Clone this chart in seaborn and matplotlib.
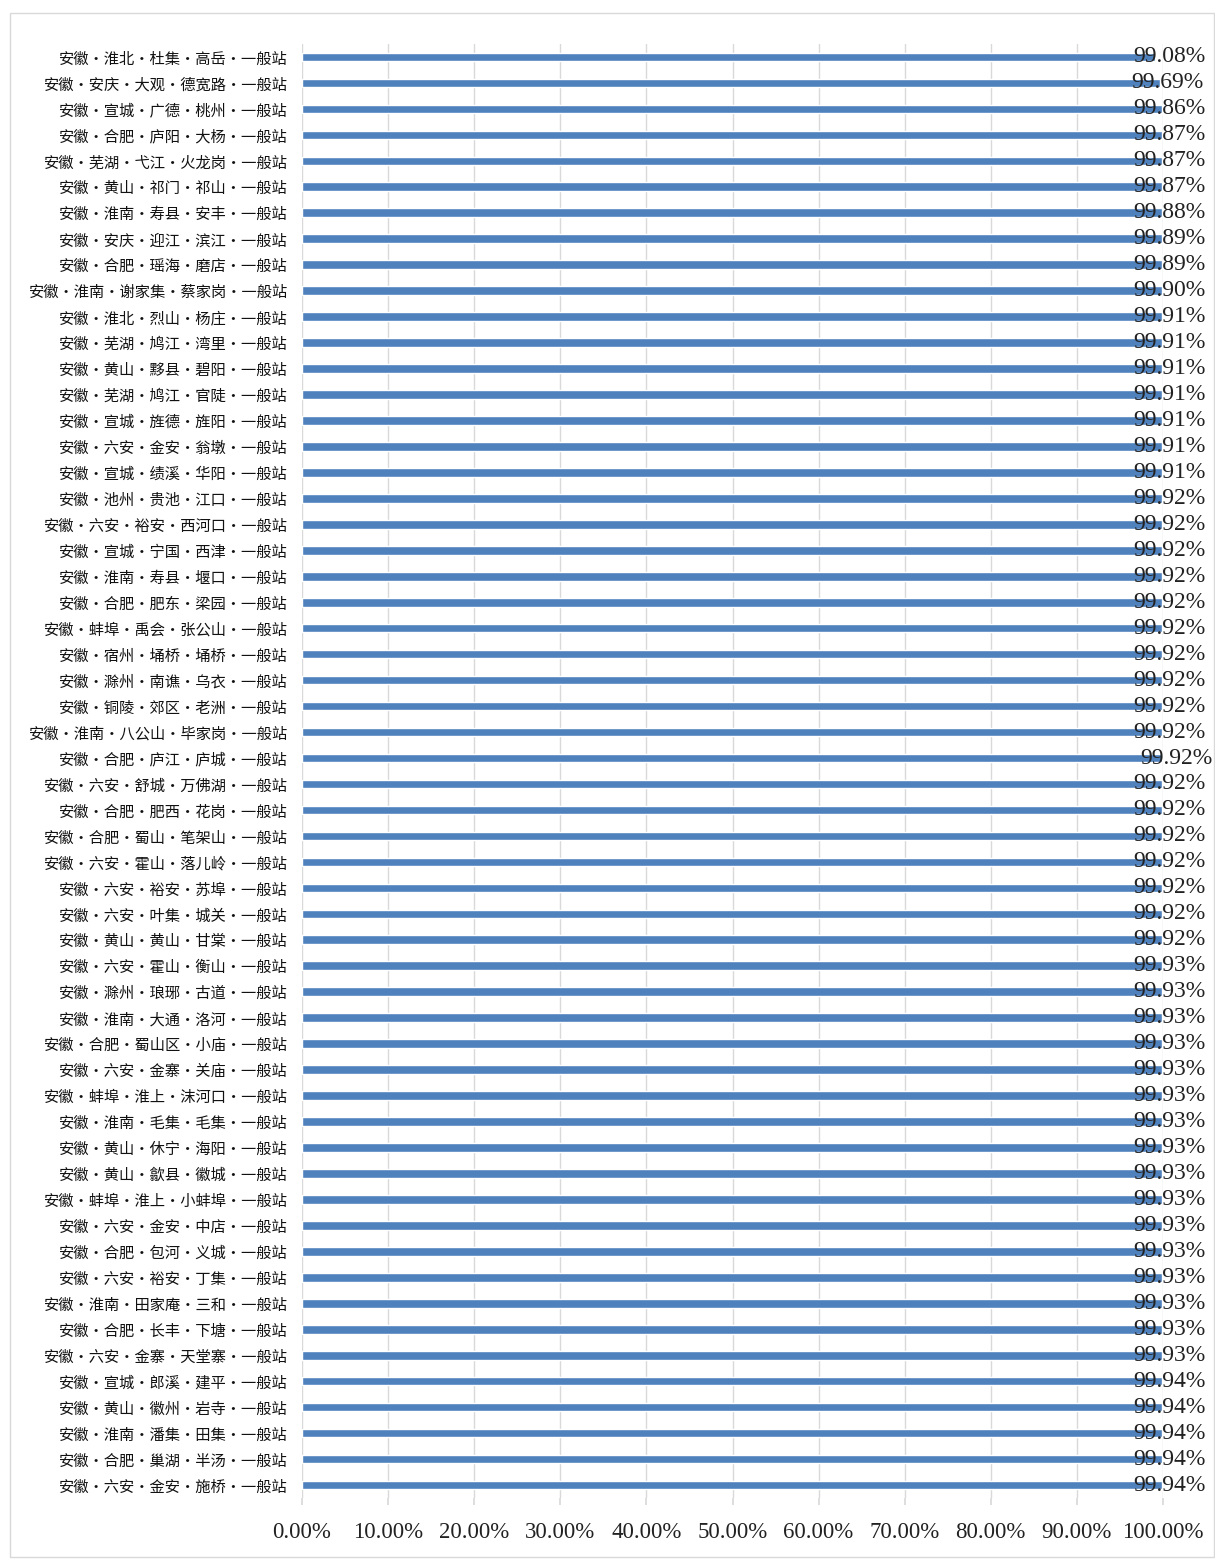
import matplotlib
matplotlib.use("Agg")
import matplotlib.pyplot as plt
import matplotlib.patches as patches
import seaborn as sns
import pandas as pd

# station names, top to bottom
stations = [
    "安徽·淮北·杜集·高岳·一般站", "安徽·安庆·大观·德宽路·一般站", "安徽·宣城·广德·桃州·一般站",
    "安徽·合肥·庐阳·大杨·一般站", "安徽·芜湖·弋江·火龙岗·一般站", "安徽·黄山·祁门·祁山·一般站",
    "安徽·淮南·寿县·安丰·一般站", "安徽·安庆·迎江·滨江·一般站", "安徽·合肥·瑶海·磨店·一般站",
    "安徽·淮南·谢家集·蔡家岗·一般站", "安徽·淮北·烈山·杨庄·一般站", "安徽·芜湖·鸠江·湾里·一般站",
    "安徽·黄山·黟县·碧阳·一般站", "安徽·芜湖·鸠江·官陡·一般站", "安徽·宣城·旌德·旌阳·一般站",
    "安徽·六安·金安·翁墩·一般站", "安徽·宣城·绩溪·华阳·一般站", "安徽·池州·贵池·江口·一般站",
    "安徽·六安·裕安·西河口·一般站", "安徽·宣城·宁国·西津·一般站", "安徽·淮南·寿县·堰口·一般站",
    "安徽·合肥·肥东·梁园·一般站", "安徽·蚌埠·禹会·张公山·一般站", "安徽·宿州·埇桥·埇桥·一般站",
    "安徽·滁州·南谯·乌衣·一般站", "安徽·铜陵·郊区·老洲·一般站", "安徽·淮南·八公山·毕家岗·一般站",
    "安徽·合肥·庐江·庐城·一般站", "安徽·六安·舒城·万佛湖·一般站", "安徽·合肥·肥西·花岗·一般站",
    "安徽·合肥·蜀山·笔架山·一般站", "安徽·六安·霍山·落儿岭·一般站", "安徽·六安·裕安·苏埠·一般站",
    "安徽·六安·叶集·城关·一般站", "安徽·黄山·黄山·甘棠·一般站", "安徽·六安·霍山·衡山·一般站",
    "安徽·滁州·琅琊·古道·一般站", "安徽·淮南·大通·洛河·一般站", "安徽·合肥·蜀山区·小庙·一般站",
    "安徽·六安·金寨·关庙·一般站", "安徽·蚌埠·淮上·沫河口·一般站", "安徽·淮南·毛集·毛集·一般站",
    "安徽·黄山·休宁·海阳·一般站", "安徽·黄山·歙县·徽城·一般站", "安徽·蚌埠·淮上·小蚌埠·一般站",
    "安徽·六安·金安·中店·一般站", "安徽·合肥·包河·义城·一般站", "安徽·六安·裕安·丁集·一般站",
    "安徽·淮南·田家庵·三和·一般站", "安徽·合肥·长丰·下塘·一般站", "安徽·六安·金寨·天堂寨·一般站",
    "安徽·宣城·郎溪·建平·一般站", "安徽·黄山·徽州·岩寺·一般站", "安徽·淮南·潘集·田集·一般站",
    "安徽·合肥·巢湖·半汤·一般站", "安徽·六安·金安·施桥·一般站",
]

# availability in percent
rates = [
    99.08, 99.69, 99.86, 99.87, 99.87, 99.87, 99.88, 99.89, 99.89, 99.90,
    99.91, 99.91, 99.91, 99.91, 99.91, 99.91, 99.91, 99.92, 99.92, 99.92,
    99.92, 99.92, 99.92, 99.92, 99.92, 99.92, 99.92, 99.92, 99.92, 99.92,
    99.92, 99.92, 99.92, 99.92, 99.92, 99.93, 99.93, 99.93, 99.93, 99.93,
    99.93, 99.93, 99.93, 99.93, 99.93, 99.93, 99.93, 99.93, 99.93, 99.93,
    99.93, 99.94, 99.94, 99.94, 99.94, 99.94,
]

x_ticks = [0, 10, 20, 30, 40, 50, 60, 70, 80, 90, 100]

df = pd.DataFrame({"station": stations, "rate": rates})

sns.set_theme(style="white")
plt.rcParams["font.family"] = ["Noto Sans CJK SC", "DejaVu Sans"]

fig = plt.figure(figsize=(12.15, 15.59), dpi=100)
ax = fig.add_axes([0.2486, 0.0391, 0.7086, 0.9327])

sns.barplot(data=df, x="rate", y="station", orient="h", color="#4F81BD",
            saturation=1, width=0.33, ax=ax, zorder=3)

ax.set_xlim(0, 100)
ax.set_xticks(x_ticks)
ax.set_xticklabels([f"{t:.2f}%" for t in x_ticks], family="Liberation Serif",
                   fontsize=16.5, color="#222222")
ax.set_xlabel("")
ax.set_ylabel("")
ax.tick_params(axis="y", labelsize=11, length=0, pad=10, labelcolor="#111111")
ax.tick_params(axis="x", length=5, color="#d9d9d9", pad=12, bottom=True)
ax.grid(axis="x", color="#d9d9d9", linewidth=1, zorder=0)
for s in ax.spines.values():
    s.set_visible(False)

# value labels near the bar ends
for i, v in enumerate(rates):
    shift = -22 if i == 0 else -29
    if i == 27:
        shift = -22
    ax.annotate(f"{v:.2f}%", xy=(v, i), xytext=(shift, 0), textcoords="offset pixels",
                ha="left", va="center", family="Liberation Serif", fontsize=17,
                color="#222222", zorder=4, annotation_clip=False)

# outer chart border
fig.patches.append(patches.Rectangle((10 / 1215, 2 / 1559), 1204 / 1215, 1544 / 1559,
                                     transform=fig.transFigure, fill=False,
                                     edgecolor="#d9d9d9", linewidth=1))

fig.savefig("out.png", dpi=100, facecolor="white")
